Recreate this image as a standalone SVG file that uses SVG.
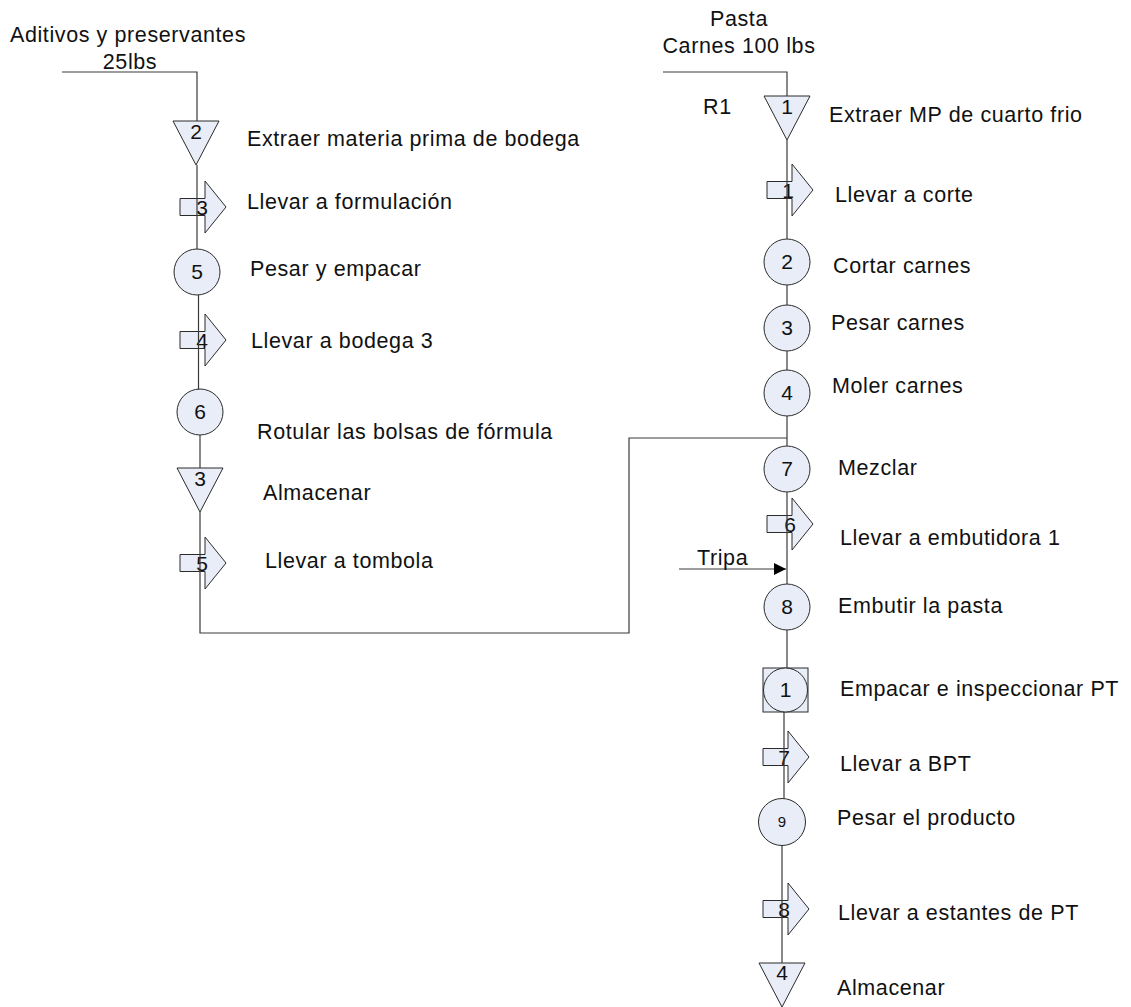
<svg xmlns="http://www.w3.org/2000/svg" xmlns:xlink="http://www.w3.org/1999/xlink" width="1131" height="1007" viewBox="0 0 1131 1007">
  <style>
    .shape { fill: #e8edf7; stroke: #2b2b2b; stroke-width: 1; }
    .link { fill: none; stroke: #3a3a3a; stroke-width: 1.2; }
    .lbl { font-family: "Liberation Sans", Arial, sans-serif; font-size: 21.5px; letter-spacing: 0.6px; fill: #111; }
    .num { font-family: "Liberation Sans", Arial, sans-serif; font-size: 21px; fill: #111; text-anchor: middle; }
    .small { font-size: 15px; }
    .mid { text-anchor: middle; }
  </style>
  <defs>
    <!-- transport: block arrow, origin at left edge / vertical middle -->
    <path id="transport" d="M0,-8.5 H25 V-26 L46,0 L25,26 V8.5 H0 Z"/>
    <!-- storage: inverted triangle, origin at top centre -->
    <path id="storage" d="M-23,0 H23 L0,44 Z"/>
    <marker id="head" viewBox="0 0 10 10" refX="10" refY="5" markerWidth="18" markerHeight="12" markerUnits="userSpaceOnUse" orient="auto">
      <path d="M0,0 L10,5 L0,10 Z" fill="#000"/>
    </marker>
  </defs>

  <!-- left column: additives line -->
  <g id="in-aditivos">
    <text class="lbl mid" x="128" y="42">Aditivos y preservantes</text>
    <text class="lbl mid" x="130" y="69">25lbs</text>
  </g>
  <g id="alm-2">
    <use xlink:href="#storage" href="#storage" class="shape" x="196" y="121"/>
    <text class="num" x="196" y="139">2</text>
    <text class="lbl" x="247" y="146">Extraer materia prima de bodega</text>
  </g>
  <g id="tr-3">
    <use xlink:href="#transport" href="#transport" class="shape" x="180" y="207"/>
    <text class="num" x="202" y="215">3</text>
    <text class="lbl" x="247" y="209">Llevar a formulación</text>
  </g>
  <g id="op-5">
    <circle class="shape" cx="197" cy="272" r="23"/>
    <text class="num" x="197" y="279">5</text>
    <text class="lbl" x="250" y="276">Pesar y empacar</text>
  </g>
  <g id="tr-4">
    <use xlink:href="#transport" href="#transport" class="shape" x="180" y="340"/>
    <text class="num" x="202" y="348">4</text>
    <text class="lbl" x="251" y="348">Llevar a bodega 3</text>
  </g>
  <g id="op-6">
    <circle class="shape" cx="200" cy="412" r="23"/>
    <text class="num" x="200" y="419">6</text>
    <text class="lbl" x="257" y="439">Rotular las bolsas de fórmula</text>
  </g>
  <g id="alm-3">
    <use xlink:href="#storage" href="#storage" class="shape" x="200" y="468"/>
    <text class="num" x="200" y="486">3</text>
    <text class="lbl" x="263" y="500">Almacenar</text>
  </g>
  <g id="tr-5">
    <use xlink:href="#transport" href="#transport" class="shape" x="180" y="563"/>
    <text class="num" x="202" y="571">5</text>
    <text class="lbl" x="265" y="568">Llevar a tombola</text>
  </g>

  <!-- right column: meat line -->
  <g id="in-carnes">
    <text class="lbl mid" x="739" y="26">Pasta</text>
    <text class="lbl mid" x="739" y="53">Carnes 100 lbs</text>
    <text class="lbl" x="703" y="114">R1</text>
  </g>
  <g id="alm-1">
    <use xlink:href="#storage" href="#storage" class="shape" x="787" y="96"/>
    <text class="num" x="787" y="114">1</text>
    <text class="lbl" x="829" y="122">Extraer MP de cuarto frio</text>
  </g>
  <g id="tr-1">
    <use xlink:href="#transport" href="#transport" class="shape" x="767" y="190"/>
    <text class="num" x="788" y="198">1</text>
    <text class="lbl" x="835" y="202">Llevar a corte</text>
  </g>
  <g id="op-2">
    <circle class="shape" cx="787" cy="262" r="23"/>
    <text class="num" x="787" y="269">2</text>
    <text class="lbl" x="833" y="273">Cortar carnes</text>
  </g>
  <g id="op-3">
    <circle class="shape" cx="787" cy="328" r="23"/>
    <text class="num" x="787" y="335">3</text>
    <text class="lbl" x="831" y="330">Pesar carnes</text>
  </g>
  <g id="op-4">
    <circle class="shape" cx="787" cy="393" r="23"/>
    <text class="num" x="787" y="400">4</text>
    <text class="lbl" x="832" y="393">Moler carnes</text>
  </g>
  <g id="op-7">
    <circle class="shape" cx="787" cy="469" r="23"/>
    <text class="num" x="787" y="476">7</text>
    <text class="lbl" x="838" y="475">Mezclar</text>
  </g>
  <g id="tr-6">
    <use xlink:href="#transport" href="#transport" class="shape" x="767" y="524"/>
    <text class="num" x="790" y="532">6</text>
    <text class="lbl" x="840" y="545">Llevar a embutidora 1</text>
  </g>
  <g id="op-8">
    <circle class="shape" cx="787" cy="607" r="23"/>
    <text class="num" x="787" y="614">8</text>
    <text class="lbl" x="838" y="613">Embutir la pasta</text>
  </g>
  <g id="comb-1">
    <rect class="shape" x="763" y="668" width="45" height="44"/>
    <circle class="shape" cx="785.5" cy="690" r="22"/>
    <text class="num" x="785.5" y="697">1</text>
    <text class="lbl" x="840" y="696">Empacar e inspeccionar PT</text>
  </g>
  <g id="tr-7">
    <use xlink:href="#transport" href="#transport" class="shape" x="763" y="757"/>
    <text class="num" x="784" y="765">7</text>
    <text class="lbl" x="840" y="771">Llevar a BPT</text>
  </g>
  <g id="op-9">
    <circle class="shape" cx="782" cy="822" r="23.5"/>
    <text class="num small" x="782" y="827">9</text>
    <text class="lbl" x="837" y="825">Pesar el producto</text>
  </g>
  <g id="tr-8">
    <use xlink:href="#transport" href="#transport" class="shape" x="763" y="909"/>
    <text class="num" x="784" y="917">8</text>
    <text class="lbl" x="838" y="920">Llevar a estantes de PT</text>
  </g>
  <g id="alm-4">
    <use xlink:href="#storage" href="#storage" class="shape" x="782" y="963"/>
    <text class="num" x="782" y="980">4</text>
    <text class="lbl" x="837" y="995">Almacenar</text>
  </g>

  <!-- connectors -->
  <g id="connectors">
    <path class="link" d="M62,72 H197 V121"/>
    <path class="link" d="M197,165 V249"/>
    <path class="link" d="M198.5,295 V389.5"/>
    <path class="link" d="M200,435 V468"/>
    <path class="link" d="M200,512 V633 H629 V438 H787"/>
    <path class="link" d="M663,72 H787 V96"/>
    <path class="link" d="M787,140 V239"/>
    <path class="link" d="M787,285 V305"/>
    <path class="link" d="M787,351 V370"/>
    <path class="link" d="M787,416 V446"/>
    <path class="link" d="M787,492 V584"/>
    <path class="link" d="M787,630 V668"/>
    <path class="link" d="M784,712 V798.5"/>
    <path class="link" d="M782,845.5 V963"/>
    <path class="link" d="M679,569 H786" marker-end="url(#head)"/>
    <text class="lbl" x="697" y="565">Tripa</text>
  </g>
</svg>
